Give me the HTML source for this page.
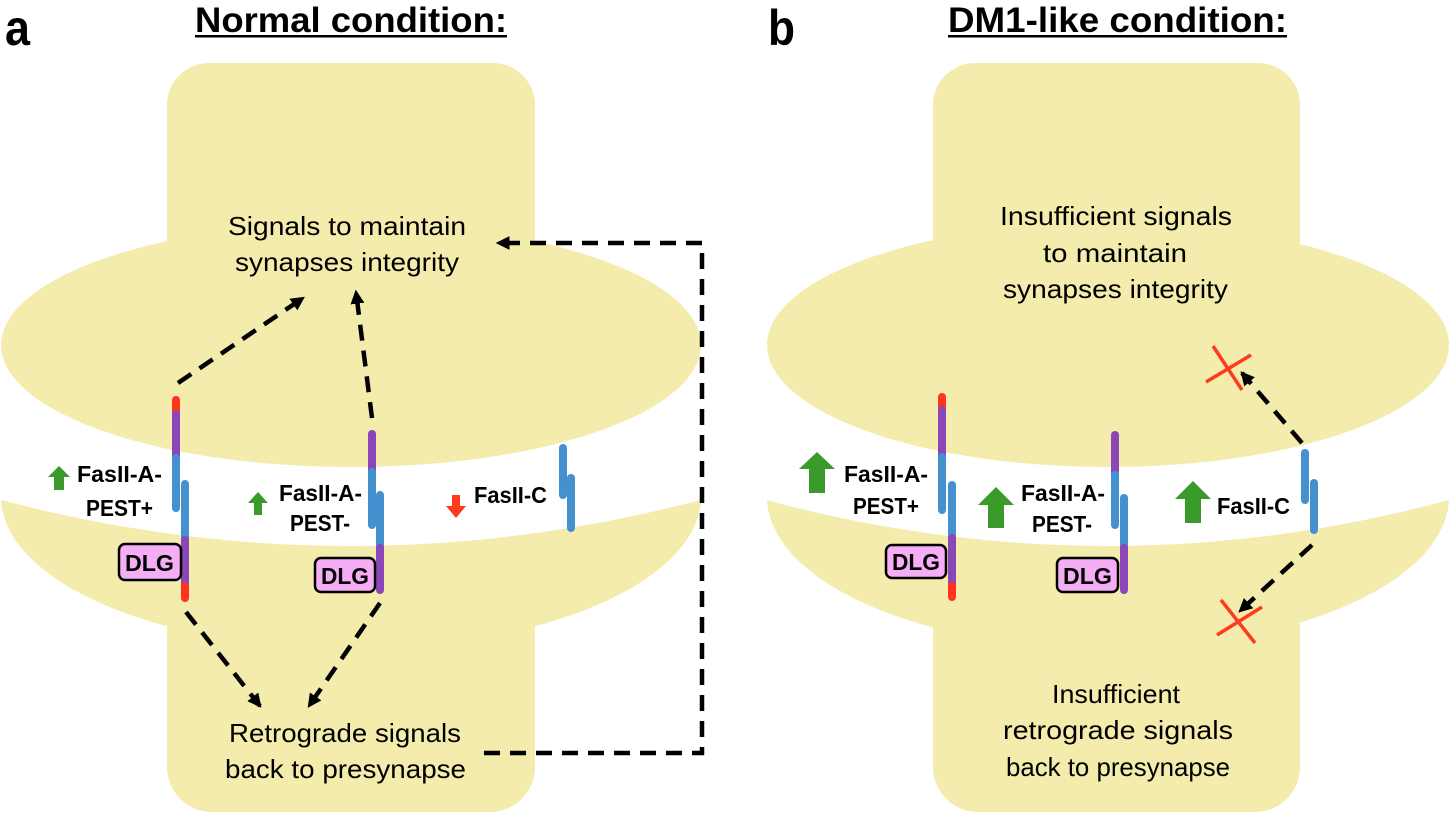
<!DOCTYPE html>
<html><head><meta charset="utf-8"><style>
html,body{margin:0;padding:0;background:#fff;}
svg{display:block;}
text{font-family:"Liberation Sans",sans-serif;}
</style></head><body>
<svg width="1450" height="815" viewBox="0 0 1450 815" xmlns="http://www.w3.org/2000/svg">
<defs>
<marker id="ah2" viewBox="0 0 12 12" markerWidth="14" markerHeight="14" refX="10" refY="6" orient="auto" markerUnits="userSpaceOnUse">
<path d="M0,0 L12,6 L0,12 Z" fill="#000"/>
</marker>
</defs>
<g fill="#F4ECAC">
<ellipse cx="351" cy="497" rx="350" ry="152"/>
<rect x="167" y="480" width="368" height="332" rx="45"/>
</g>
<path d="M-10,497 Q350,595 712,497 L712,0 L-10,0 Z" fill="#fff"/>
<g fill="#F4ECAC">
<rect x="167" y="63" width="368" height="300" rx="42"/>
<ellipse cx="351" cy="345" rx="350" ry="122"/>
</g>
<g fill="#F4ECAC">
<ellipse cx="1108" cy="497" rx="341" ry="152"/>
<rect x="933" y="480" width="367" height="332" rx="45"/>
</g>
<path d="M755,497 Q1108,595 1460,497 L1460,50 L755,50 Z" fill="#fff"/>
<g fill="#F4ECAC">
<rect x="933" y="63" width="367" height="300" rx="42"/>
<ellipse cx="1108" cy="345" rx="341" ry="122"/>
</g>

<text x="5" y="45" font-size="50" font-weight="bold" textLength="25" lengthAdjust="spacingAndGlyphs">a</text>
<text x="195" y="32" font-size="35" font-weight="bold" textLength="312" lengthAdjust="spacingAndGlyphs">Normal condition:</text>
<rect x="195" y="35" width="312" height="2.5" fill="#000"/>
<text x="768" y="45" font-size="50" font-weight="bold" textLength="27" lengthAdjust="spacingAndGlyphs">b</text>
<text x="948" y="32" font-size="35" font-weight="bold" textLength="339" lengthAdjust="spacingAndGlyphs">DM1-like condition:</text>
<rect x="948" y="35" width="339" height="2.5" fill="#000"/>

<g font-size="26">
<text x="228" y="235" textLength="238" lengthAdjust="spacingAndGlyphs">Signals to maintain</text>
<text x="235" y="271" textLength="224" lengthAdjust="spacingAndGlyphs">synapses integrity</text>
<text x="229" y="742" textLength="232" lengthAdjust="spacingAndGlyphs">Retrograde signals</text>
<text x="225" y="778" textLength="241" lengthAdjust="spacingAndGlyphs">back to presynapse</text>
<text x="1000" y="225" textLength="232" lengthAdjust="spacingAndGlyphs">Insufficient signals</text>
<text x="1043" y="262" textLength="144" lengthAdjust="spacingAndGlyphs">to maintain</text>
<text x="1003" y="298" textLength="225" lengthAdjust="spacingAndGlyphs">synapses integrity</text>
<text x="1052" y="703" textLength="128" lengthAdjust="spacingAndGlyphs">Insufficient</text>
<text x="1003" y="739" textLength="230" lengthAdjust="spacingAndGlyphs">retrograde signals</text>
<text x="1006" y="776" textLength="224" lengthAdjust="spacingAndGlyphs">back to presynapse</text>
</g>

<g stroke="#000" stroke-width="4.5" fill="none" stroke-dasharray="16 10">
<path d="M178,383 L303,298" marker-end="url(#ah2)"/>
<path d="M372,418 L356,292" marker-end="url(#ah2)"/>
<path d="M186,612 L260,706" marker-end="url(#ah2)"/>
<path d="M380,603 L309,706" marker-end="url(#ah2)"/>
<path d="M484,753 L702,753 L702,243 L498,243" marker-end="url(#ah2)"/>
<path d="M1302,443 L1242,373" marker-end="url(#ah2)"/>
<path d="M1312,545 L1240,611" marker-end="url(#ah2)"/>
</g>
<g stroke="#FF3B1F" stroke-width="3.5">
<line x1="1213" y1="346" x2="1242" y2="390"/>
<line x1="1206" y1="382" x2="1251" y2="355"/>
<line x1="1221" y1="600" x2="1255" y2="643"/>
<line x1="1217" y1="635" x2="1262" y2="607"/>
</g>

<g stroke-width="8" stroke-linecap="round" fill="none">
<line x1="176" y1="400" x2="176" y2="414" stroke="#FF3320"/>
<line x1="176" y1="414" x2="176" y2="458" stroke="#8B47B8"/>
<line x1="176" y1="458" x2="176" y2="508" stroke="#4590CF"/>
<line x1="185" y1="484" x2="185" y2="540" stroke="#4590CF"/>
<line x1="185" y1="540" x2="185" y2="586" stroke="#8B47B8"/>
<line x1="185" y1="586" x2="185" y2="598" stroke="#FF3320"/>
<line x1="372" y1="434" x2="372" y2="472" stroke="#8B47B8"/>
<line x1="372" y1="472" x2="372" y2="525" stroke="#4590CF"/>
<line x1="380" y1="495" x2="380" y2="548" stroke="#4590CF"/>
<line x1="380" y1="548" x2="380" y2="590" stroke="#8B47B8"/>
<line x1="563" y1="448" x2="563" y2="495" stroke="#4590CF"/>
<line x1="571" y1="478" x2="571" y2="528" stroke="#4590CF"/>
<line x1="942" y1="397" x2="942" y2="410" stroke="#FF3320"/>
<line x1="942" y1="410" x2="942" y2="457" stroke="#8B47B8"/>
<line x1="942" y1="457" x2="942" y2="510" stroke="#4590CF"/>
<line x1="952" y1="485" x2="952" y2="538" stroke="#4590CF"/>
<line x1="952" y1="538" x2="952" y2="586" stroke="#8B47B8"/>
<line x1="952" y1="586" x2="952" y2="597" stroke="#FF3320"/>
<line x1="1115" y1="435" x2="1115" y2="475" stroke="#8B47B8"/>
<line x1="1115" y1="475" x2="1115" y2="525" stroke="#4590CF"/>
<line x1="1124" y1="498" x2="1124" y2="548" stroke="#4590CF"/>
<line x1="1124" y1="548" x2="1124" y2="590" stroke="#8B47B8"/>
<line x1="1305" y1="453" x2="1305" y2="500" stroke="#4590CF"/>
<line x1="1314" y1="483" x2="1314" y2="530" stroke="#4590CF"/>
</g>

<g stroke="#000" stroke-width="2.5" fill="#F5ADF5">
<rect x="119" y="544" width="62" height="36" rx="6"/>
<rect x="315" y="558" width="60" height="34" rx="6"/>
<rect x="886" y="545" width="60" height="33" rx="6"/>
<rect x="1057" y="558" width="61" height="34" rx="6"/>
</g>
<g font-size="23" font-weight="bold">
<text x="125" y="571" textLength="49" lengthAdjust="spacingAndGlyphs">DLG</text>
<text x="321" y="584" textLength="48" lengthAdjust="spacingAndGlyphs">DLG</text>
<text x="892" y="570" textLength="48" lengthAdjust="spacingAndGlyphs">DLG</text>
<text x="1063" y="584" textLength="49" lengthAdjust="spacingAndGlyphs">DLG</text>
</g>

<g font-size="23" font-weight="bold">
<text x="77" y="482" textLength="85" lengthAdjust="spacingAndGlyphs">FasII-A-</text>
<text x="86" y="516" textLength="67" lengthAdjust="spacingAndGlyphs">PEST+</text>
<text x="279" y="501" textLength="83" lengthAdjust="spacingAndGlyphs">FasII-A-</text>
<text x="290" y="531" textLength="60" lengthAdjust="spacingAndGlyphs">PEST-</text>
<text x="474" y="503" textLength="73" lengthAdjust="spacingAndGlyphs">FasII-C</text>
<text x="844" y="482" textLength="84" lengthAdjust="spacingAndGlyphs">FasII-A-</text>
<text x="853" y="514" textLength="66" lengthAdjust="spacingAndGlyphs">PEST+</text>
<text x="1021" y="501" textLength="84" lengthAdjust="spacingAndGlyphs">FasII-A-</text>
<text x="1032" y="532" textLength="60" lengthAdjust="spacingAndGlyphs">PEST-</text>
<text x="1217" y="514" textLength="73" lengthAdjust="spacingAndGlyphs">FasII-C</text>
</g>

<g fill="#3A9A2A">
<path d="M59,466 L70,477 L64,477 L64,490 L54,490 L54,477 L48,477 Z"/>
<path d="M258,492 L268,503 L262,503 L262,515 L254,515 L254,503 L248,503 Z"/>
<path d="M817,452 L835,469 L825,469 L825,493 L809,493 L809,469 L799,469 Z"/>
<path d="M996,487 L1014,505 L1004,505 L1004,528 L988,528 L988,505 L978,505 Z"/>
<path d="M1193,481 L1211,499 L1201,499 L1201,523 L1185,523 L1185,499 L1175,499 Z"/>
</g>
<path d="M452,495 L460,495 L460,506 L466,506 L456,518 L446,506 L452,506 Z" fill="#FF3B1F"/>
</svg>
</body></html>
